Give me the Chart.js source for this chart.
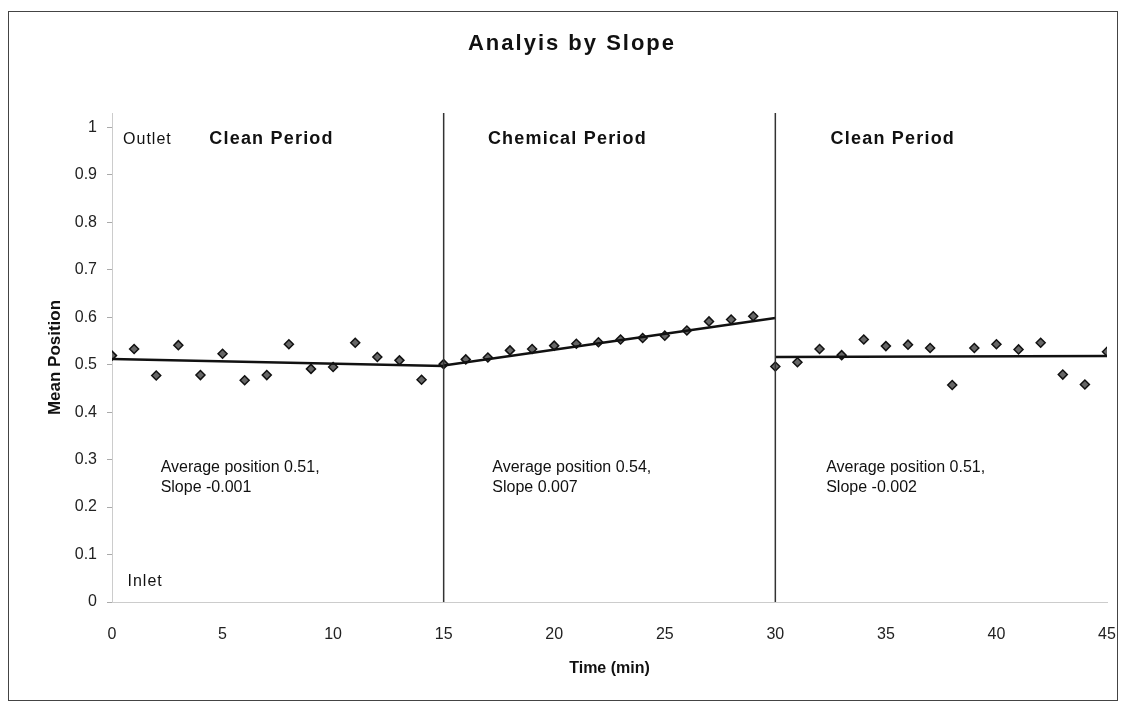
<!DOCTYPE html>
<html>
<head>
<meta charset="utf-8">
<title>Analyis by Slope</title>
<script src="https://cdn.jsdelivr.net/npm/chart.js@4.4.0/dist/chart.umd.min.js"></script>
<style>
  body { margin: 0; background: #fff; }
  #wrap { position: relative; width: 1125px; height: 710px; }
  #frame { position: absolute; left: 8px; top: 11px; width: 1108px; height: 688px; border: 1px solid #444; pointer-events: none; }
</style>
</head>
<body>
<div id="wrap">
  <canvas id="slopeChart" width="1125" height="710"></canvas>
  <div id="frame"></div>
</div>
<script>
// measured mean position per minute
const minutes = [0, 1, 2, 3, 4, 5, 6, 7, 8, 9, 10, 11, 12, 13, 14, 15,
                 16, 17, 18, 19, 20, 21, 22, 23, 24, 25, 26, 27, 28, 29,
                 30, 31, 32, 33, 34, 35, 36, 37, 38, 39, 40, 41, 42, 43, 44, 45];
const meanPosition = [0.519, 0.533, 0.477, 0.541, 0.478, 0.523, 0.467, 0.478, 0.543, 0.491, 0.495, 0.546, 0.516, 0.509, 0.468, 0.501,
                      0.511, 0.515, 0.530, 0.533, 0.540, 0.544, 0.547, 0.553, 0.556, 0.561, 0.572, 0.591, 0.595, 0.602,
                      0.496, 0.505, 0.533, 0.520, 0.553, 0.539, 0.542, 0.535, 0.457, 0.535, 0.543, 0.532, 0.546, 0.479, 0.458, 0.527];

// fitted trend per period
const trendStart = [0, 15, 30];
const trendEnd = [15, 30, 45];
const trendFrom = [0.512, 0.498, 0.516];
const trendTo = [0.497, 0.598, 0.518];

const dividers = [15, 30];
const yMax = 1.03;

const chartTitle = 'Analyis by Slope';
const periodNames = ['Clean Period', 'Chemical Period', 'Clean Period'];
const periodNameX = [4.4, 17.0, 32.5];
const averageNotes = ['Average position 0.51,', 'Average position 0.54,', 'Average position 0.51,'];
const slopeNotes = ['Slope -0.001', 'Slope 0.007', 'Slope -0.002'];
const noteX = [2.2, 17.2, 32.3];

const FONT = '"Liberation Sans", Arial, sans-serif';

const periodText = {
    id: 'periodText',
    afterDatasetsDraw(chart) {
        const ctx = chart.ctx;
        const x = chart.scales.x;
        const y = chart.scales.y;
        ctx.save();
        ctx.fillStyle = '#111';
        ctx.textBaseline = 'middle';

        // title, a little spaced out like the scan
        ctx.textAlign = 'center';
        ctx.font = 'bold 22px ' + FONT;
        ctx.letterSpacing = '2px';
        ctx.fillText(chartTitle, 572, 44);

        ctx.textAlign = 'left';
        ctx.font = 'bold 18px ' + FONT;
        ctx.letterSpacing = '1.2px';
        periodNames.forEach((name, i) => {
            ctx.fillText(name, x.getPixelForValue(periodNameX[i]), y.getPixelForValue(0.975));
        });

        ctx.font = '16px ' + FONT;
        ctx.letterSpacing = '1px';
        ctx.fillText('Outlet', x.getPixelForValue(0.5), y.getPixelForValue(0.975));
        ctx.fillText('Inlet', x.getPixelForValue(0.7), y.getPixelForValue(0.042));

        ctx.letterSpacing = '0px';
        averageNotes.forEach((note, i) => {
            ctx.fillText(note, x.getPixelForValue(noteX[i]), y.getPixelForValue(0.283));
            ctx.fillText(slopeNotes[i], x.getPixelForValue(noteX[i]), y.getPixelForValue(0.241));
        });
        ctx.restore();
    }
};

function buildDatasets() {
    const datasets = [];
    dividers.forEach(d => {
        datasets.push({
            type: 'line',
            data: [{ x: d, y: 0 }, { x: d, y: yMax }],
            borderColor: '#333',
            borderWidth: 1.5,
            pointRadius: 0
        });
    });
    trendStart.forEach((start, i) => {
        datasets.push({
            type: 'line',
            data: [{ x: start, y: trendFrom[i] }, { x: trendEnd[i], y: trendTo[i] }],
            borderColor: '#111',
            borderWidth: 2.5,
            pointRadius: 0
        });
    });
    datasets.push({
        type: 'scatter',
        data: minutes.map((m, i) => ({ x: m, y: meanPosition[i] })),
        pointStyle: 'rectRot',
        pointRadius: 4.5,
        backgroundColor: '#666',
        borderColor: '#111',
        borderWidth: 1.5
    });
    return datasets;
}

function drawChart() {
    const ctx = document.getElementById('slopeChart').getContext('2d');
    new Chart(ctx, {
        type: 'scatter',
        data: { datasets: buildDatasets() },
        options: {
            responsive: false,
            animation: false,
            layout: { padding: { left: 10, right: 18, top: 113, bottom: 25 } },
            plugins: {
                legend: { display: false },
                tooltip: { enabled: false },
                title: { display: false }
            },
            scales: {
                x: {
                    type: 'linear',
                    min: 0,
                    max: 45,
                    ticks: { stepSize: 5, padding: 23, color: '#222', font: { family: FONT, size: 16 } },
                    grid: { display: false, drawTicks: false },
                    border: { color: '#ccc' },
                    title: {
                        display: true,
                        text: 'Time (min)',
                        color: '#111',
                        font: { family: FONT, size: 16, weight: 'bold' },
                        padding: { top: 0, bottom: 7 }
                    },
                    afterFit(s) {
                        s.height = 83;
                        s.paddingLeft = 0;
                        s.paddingRight = 0;
                    }
                },
                y: {
                    min: 0,
                    max: yMax,
                    ticks: {
                        stepSize: 0.1,
                        includeBounds: false,
                        padding: 10,
                        color: '#222',
                        font: { family: FONT, size: 16 },
                        callback: v => String(Math.round(v * 10) / 10)
                    },
                    grid: { drawOnChartArea: false, color: '#aaa', tickLength: 5 },
                    border: { color: '#ccc' },
                    title: {
                        display: true,
                        text: 'Mean Position',
                        color: '#111',
                        font: { family: FONT, size: 17, weight: 'bold' },
                        padding: { top: 35, bottom: 0 }
                    },
                    afterFit(s) {
                        s.width = 102;
                        s.paddingTop = 0;
                        s.paddingBottom = 0;
                    }
                }
            }
        },
        plugins: [periodText]
    });
}

document.addEventListener('DOMContentLoaded', drawChart);
</script>
</body>
</html>
